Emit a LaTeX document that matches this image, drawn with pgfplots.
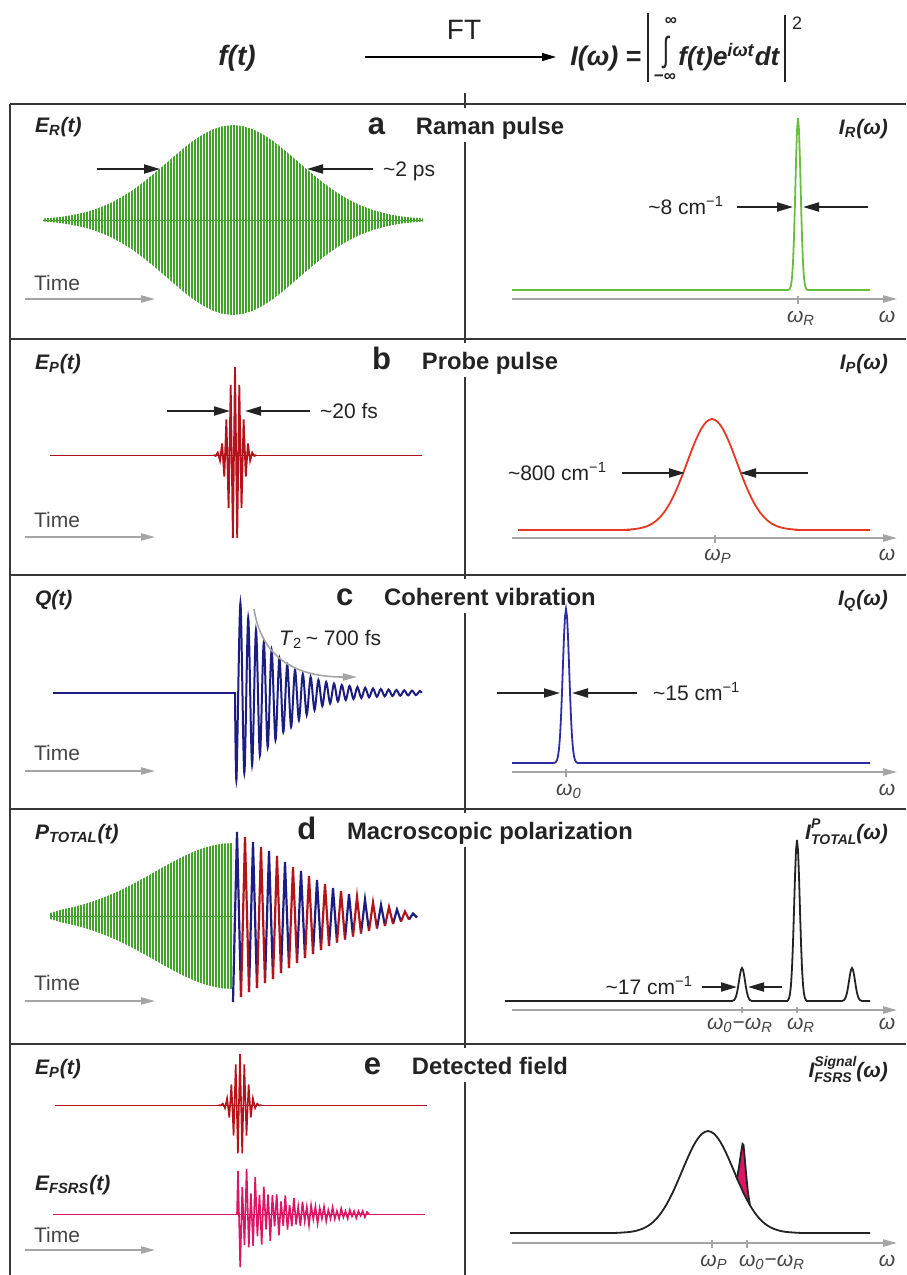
\documentclass[border=0pt]{standalone}
\usepackage{pgfplots}
\pgfplotsset{compat=1.18}
\usepackage{fontspec}
\setmainfont{Liberation Sans}
\usetikzlibrary{arrows.meta,patterns.meta}

\definecolor{cgreen}{RGB}{66,162,44}
\definecolor{cgreenl}{RGB}{105,190,60}
\definecolor{cdred}{RGB}{180,20,25}
\definecolor{cred}{RGB}{232,55,35}
\definecolor{cblue}{RGB}{28,28,130}
\definecolor{cblue2}{RGB}{45,45,160}
\definecolor{cmag}{RGB}{222,20,100}
\definecolor{cgray}{RGB}{165,165,165}
\definecolor{cframe}{RGB}{55,55,55}
\definecolor{ctext}{RGB}{35,35,35}

\newcommand\hdr{\fontsize{14}{16}\selectfont}
\newcommand\lab{\fontsize{10.5}{12}\selectfont\bfseries\itshape}
\newcommand\ann{\fontsize{10.5}{12}\selectfont}
\newcommand\ttl{\fontsize{11.9}{14}\selectfont\bfseries}
\newcommand\letr{\fontsize{15.5}{18}\selectfont\bfseries}
\newcommand\omf{\fontsize{10.5}{12}\selectfont\itshape}
\newcommand\sub[1]{\textsubscript{#1}}
\newcommand\smallf{\fontsize{7}{8}\selectfont}

% each panel: x in picture pixels, y in pixels above the trace baseline
\pgfplotsset{panel/.style={hide axis, clip=false, x=0.5pt, y=0.5pt,
  anchor=south west, ymin=-130, ymax=130, no markers, unbounded coords=jump}}
\tikzset{
  barr/.style={draw=ctext, line width=1pt, -{Triangle[length=8pt,width=4.5pt]}},
  garr/.style={draw=cgray, line width=0.8pt, -{Triangle[length=7pt,width=3.6pt]}},
  frame/.style={draw=cframe, line width=1.2pt},
  gtick/.style={draw=cgray, line width=0.8pt},
  gpat/.style={pattern={Lines[angle=90,distance=1.5pt,line width=0.85pt]}, pattern color=cgreen},
}

\begin{document}
\begin{tikzpicture}[x=0.5pt,y=-0.5pt]
\path[use as bounding box] (0,0) rectangle (906,1275);
% frame
\draw[frame] (10,104) -- (906,104);
\draw[frame] (10,339) -- (906,339);
\draw[frame] (10,575) -- (906,575);
\draw[frame] (10,809) -- (906,809);
\draw[frame] (10,1044) -- (906,1044);
\draw[frame] (10,104) -- (10,1275);
\draw[frame] (465,93) -- (465,1275);
\foreach \T in {104,339,575,809,1044} {\fill[white] (458,\T+4) rectangle (472,\T+38);}
% header
\node[anchor=base, text=ctext] at (237,65) {\hdr\bfseries\itshape f(t)};
\node[anchor=base, text=ctext] at (464,39) {\hdr FT};
\draw[line width=0.6pt, -{Triangle[length=7pt,width=4pt]}] (365,57) -- (556,57);
\node[anchor=base west, inner sep=0, text=ctext] at (570,65) {\fontsize{13.5}{16}\selectfont\bfseries\itshape I(ω) \upshape=};
\draw[line width=0.9pt, draw=ctext] (648,13) -- (648,82);
\draw[line width=0.9pt, draw=ctext] (785,15) -- (785,82);
\node[text=ctext, inner sep=0] at (666,52) {\scalebox{0.75}[1.15]{\fontsize{15}{18}\selectfont ∫}};
\node[text=ctext, inner sep=0] at (671,21) {\fontsize{8.5}{10}\selectfont\bfseries ∞};
\node[text=ctext, inner sep=0] at (665,77) {\fontsize{8.5}{10}\selectfont\bfseries −∞};
\node[anchor=base west, inner sep=0, text=ctext] at (678,65) {\fontsize{13}{16}\selectfont\bfseries\itshape f(t)e\textsuperscript{iωt}dt};
\node[text=ctext, inner sep=0] at (797,23) {\fontsize{9}{10}\selectfont 2};

% ---------- row a ----------
\begin{axis}[panel, xmin=0, xmax=465, at={(0pt,-175pt)}]
\addplot[cgreen, line width=0.3pt] coordinates {(43,0) (423,0)};
\addplot[draw=none, gpat] coordinates {
(43,1.5) (53,2.3) (63,3.4) (73,5.0) (83,7.2) (93,10.0) (103,13.7) (113,18.2) (123,23.7) (133,30.1)
(143,37.5) (153,45.6) (163,54.1) (173,62.8) (183,71.3) (193,79.1) (203,85.7) (213,90.7) (223,93.9) (233,95)
(243,93.9) (253,90.7) (263,85.7) (273,79.1) (283,71.3) (293,62.8) (303,54.1) (313,45.6) (323,37.5) (333,30.1)
(343,23.7) (353,18.2) (363,13.7) (373,10.0) (383,7.2) (393,5.0) (403,3.4) (413,2.3) (423,1.5)
(423,-1.5) (413,-2.3) (403,-3.4) (393,-5.0) (383,-7.2) (373,-10.0) (363,-13.7) (353,-18.2) (343,-23.7) (333,-30.1)
(323,-37.5) (313,-45.6) (303,-54.1) (293,-62.8) (283,-71.3) (273,-79.1) (263,-85.7) (253,-90.7) (243,-93.9) (233,-95)
(223,-93.9) (213,-90.7) (203,-85.7) (193,-79.1) (183,-71.3) (173,-62.8) (163,-54.1) (153,-45.6) (143,-37.5) (133,-30.1)
(123,-23.7) (113,-18.2) (103,-13.7) (93,-10.0) (83,-7.2) (73,-5.0) (63,-3.4) (53,-2.3) (43,-1.5)} --cycle;
\end{axis}
\begin{axis}[panel, xmin=465, xmax=906, at={(232.5pt,-210pt)}]
\addplot[cgreenl, line width=0.9pt] coordinates {(512,0) (788,0) (789,0.4) (790,1.5) (791,4.6) (792,12.0)
(793,27.1) (794,52.7) (795,88.4) (796,128) (797,159.7) (798,172) (799,159.7) (800,128) (801,88.4) (802,52.7)
(803,27.1) (804,12.0) (805,4.6) (806,1.5) (807,0.4) (808,0) (870,0)};
\end{axis}
\node[anchor=base west, text=ctext] at (28,132) {\lab E\sub{R}(t)};
\node[anchor=base, inner sep=0, text=ctext] (ta) at (490,134) {\ttl Raman pulse};
\node[anchor=base east, inner sep=0, text=ctext] at ([xshift=-15pt]ta.base west) {\letr a};
\node[anchor=base east, text=ctext] at (895,134) {\lab I\sub{R}(ω)};
\draw[barr] (97,169) -- (160,169);
\draw[barr] (373,169) -- (307,169);
\node[anchor=base west, text=ctext] at (376,176) {\ann\textasciitilde2 ps};
\draw[barr] (737,207) -- (793,207);
\draw[barr] (868,207) -- (803,207);
\node[anchor=base east, text=ctext] at (731,214) {\ann\textasciitilde8 cm\textsuperscript{−1}};
\node[anchor=base west, text=ctext!85] at (27,290) {\ann Time};
\draw[garr] (25,299) -- (155,299);
\draw[garr] (512,299) -- (897,299);
\draw[gtick] (798,296) -- (798,304);
\node[anchor=base, text=ctext!85] at (801,322) {\omf ω\sub{R}};
\node[anchor=base, text=ctext!85] at (887,322) {\omf ω};

% ---------- row b ----------
\begin{axis}[panel, xmin=0, xmax=465, at={(0pt,-292.5pt)}]
\addplot[cdred, line width=0.5pt] coordinates {(50,0) (422,0)};
\addplot[cdred, line width=0.9pt] coordinates {(213.5,0) (215.7,-0.9) (217.8,2.4) (220.0,-5.5) (222.1,11.5)
(224.3,-21.5) (226.4,35.7) (228.6,-53.0) (230.7,70.2) (232.9,-83.2) (235.0,88) (237.2,-83.2) (239.3,70.2)
(241.5,-53.0) (243.6,35.7) (245.8,-21.5) (247.9,11.5) (250.1,-5.5) (252.2,2.4) (254.4,-0.9) (256.5,0)};
\end{axis}
\begin{axis}[panel, xmin=465, xmax=906, at={(232.5pt,-330pt)}]
\addplot[cred, line width=0.9pt, smooth] coordinates {(518,0) (622,0) (628,0.4) (634,0.9) (640,1.8) (646,3.4)
(652,6.2) (658,10.8) (664,17.6) (670,27.1) (676,39.4) (682,54.0) (688,70.0) (694,85.7) (700,98.9) (706,107.8)
(712,111) (718,107.8) (724,98.9) (730,85.7) (736,70.0) (742,54.0) (748,39.4) (754,27.1) (760,17.6) (766,10.8)
(772,6.2) (778,3.4) (784,1.8) (790,0.9) (796,0.4) (802,0) (870,0)};
\end{axis}
\node[anchor=base west, text=ctext] at (28,369) {\lab E\sub{P}(t)};
\node[anchor=base, inner sep=0, text=ctext] (tb) at (490,369) {\ttl Probe pulse};
\node[anchor=base east, inner sep=0, text=ctext] at ([xshift=-15pt]tb.base west) {\letr b};
\node[anchor=base east, text=ctext] at (895,369) {\lab I\sub{P}(ω)};
\draw[barr] (167,411) -- (230,411);
\draw[barr] (310,411) -- (245,411);
\node[anchor=base west, text=ctext] at (313,418) {\ann\textasciitilde20 fs};
\draw[barr] (622,473) -- (685,473);
\draw[barr] (808,473) -- (740,473);
\node[anchor=base east, text=ctext] at (614,480) {\ann\textasciitilde800 cm\textsuperscript{−1}};
\node[anchor=base west, text=ctext!85] at (27,527) {\ann Time};
\draw[garr] (25,537) -- (155,537);
\draw[garr] (512,538) -- (897,538);
\draw[gtick] (715,535) -- (715,543);
\node[anchor=base, text=ctext!85] at (718,560) {\omf ω\sub{P}};
\node[anchor=base, text=ctext!85] at (887,560) {\omf ω};

% ---------- row c ----------
\begin{axis}[panel, xmin=0, xmax=465, at={(0pt,-411.5pt)}]
\addplot[cblue, line width=1pt] coordinates {(53,0) (235.5,0)};
\addplot[cblue, line width=1pt, smooth, tension=0.5] coordinates {(235,0) (236.5,-86) (240.4,90) (244.3,-80)
(248.2,75) (252.1,-72) (256.0,63) (259.9,-62) (263.8,51) (267.7,-54) (271.6,43) (275.5,-47) (279.4,35)
(283.3,-39) (287.2,28) (291.1,-34) (295.0,23) (298.9,-27) (302.8,19) (306.7,-22) (310.6,16) (314.5,-17)
(318.4,13) (322.3,-13) (326.2,11) (330.1,-10.5) (334.0,9.5) (337.9,-8.5) (341.8,8) (345.7,-7) (349.6,7)
(353.5,-6) (357.4,6) (361.3,-5) (365.2,5.2) (369.1,-4.3) (373.0,4.5) (376.9,-3.8) (380.8,4) (384.7,-3.3)
(388.6,3.5) (392.5,-3) (396.4,3) (400.3,-2.7) (404.2,2.7) (408.1,-2.4) (412.0,2.4) (415.9,-2.1) (419.8,2.1) (421.5,0)};
\end{axis}
\begin{axis}[panel, xmin=465, xmax=906, at={(232.5pt,-446.5pt)}]
\addplot[cblue2, line width=0.9pt] coordinates {(512,0) (554,0) (555,0.4) (556,1.2) (557,3.0) (558,6.8)
(559,14.1) (560,26.5) (561,45.4) (562,70.5) (563,99.2) (564,126.7) (565,146.7) (566,154) (567,146.7)
(568,126.7) (569,99.2) (570,70.5) (571,45.4) (572,26.5) (573,14.1) (574,6.8) (575,3.0) (576,1.2) (577,0.4)
(578,0) (870,0)};
\end{axis}
\node[anchor=base west, text=ctext] at (28,605) {\lab Q(t)};
\node[anchor=base, inner sep=0, text=ctext] (tc) at (490,605) {\ttl Coherent vibration};
\node[anchor=base east, inner sep=0, text=ctext] at ([xshift=-15pt]tc.base west) {\letr c};
\node[anchor=base east, text=ctext] at (895,605) {\lab I\sub{Q}(ω)};
\draw[garr] (254,609) .. controls (262,660) and (298,677) .. (357,677);
\node[anchor=base west, text=ctext] at (272,645) {\ann\textit{T}\sub{2}\,\textasciitilde\ 700 fs};
\draw[barr] (497,693) -- (560,693);
\draw[barr] (637,693) -- (572,693);
\node[anchor=base west, text=ctext] at (646,700) {\ann\textasciitilde15 cm\textsuperscript{−1}};
\node[anchor=base west, text=ctext!85] at (27,760) {\ann Time};
\draw[garr] (25,771) -- (155,771);
\draw[garr] (512,772) -- (897,772);
\draw[gtick] (566,769) -- (566,777);
\node[anchor=base, text=ctext!85] at (569,795) {\omf ω\sub{0}};
\node[anchor=base, text=ctext!85] at (887,795) {\omf ω};

% ---------- row d ----------
\begin{axis}[panel, xmin=0, xmax=465, at={(0pt,-523pt)}]
\addplot[cgreen, line width=0.3pt] coordinates {(50,0) (233,0)};
\addplot[draw=none, gpat] coordinates {
(50,3) (63,6.8) (73,8.9) (83,11.5) (93,14.6) (103,18.2) (113,22.4) (123,27.0) (133,32.1) (143,37.5)
(153,43.1) (163,48.8) (173,54.3) (183,59.4) (193,64.0) (203,67.8) (213,70.6) (223,72.4) (233,73)
(233,-73) (223,-72.4) (213,-70.6) (203,-67.8) (193,-64.0) (183,-59.4) (173,-54.3) (163,-48.8) (153,-43.1)
(143,-37.5) (133,-32.1) (123,-27.0) (113,-22.4) (103,-18.2) (93,-14.6) (83,-11.5) (73,-8.9) (63,-6.8) (50,-3)} --cycle;
\addplot[cblue, line width=1.1pt] coordinates {(233,-86) (237,84) (241,-81) (245,nan) (249,-76) (253,74)
(257,-72) (261,nan) (265,-67) (269,65) (273,-63) (277,nan) (281,-57) (285,54) (289,-52) (293,nan)
(297,-47) (301,45) (305,-42) (309,nan) (313,-38) (317,36) (321,-34) (325,nan) (329,-30) (333,28)
(337,-26.5) (341,nan) (345,-23.5) (349,22) (353,-20.5) (357,nan) (361,-17.5) (365,16.5) (369,-15)
(373,nan) (377,-12.5) (381,11) (385,-10) (389,nan) (393,-8) (397,6.5) (401,-5.5) (405,nan) (409,-3.5)
(413,2.5) (417,-1.5)};
\addplot[cdred, line width=1.1pt] coordinates {(241,-81) (245,79) (249,-76) (253,nan) (257,-72) (261,69)
(265,-67) (269,nan) (273,-63) (277,60) (281,-57) (285,nan) (289,-52) (293,49) (297,-47) (301,nan)
(305,-42) (309,40) (313,-38) (317,nan) (321,-34) (325,32) (329,-30) (333,nan) (337,-26.5) (341,25)
(345,-23.5) (349,nan) (353,-20.5) (357,19) (361,-17.5) (365,nan) (369,-15) (373,13.5) (377,-12.5)
(381,nan) (385,-10) (389,9) (393,-8) (397,nan) (401,-5.5) (405,4.5) (409,-3.5)};
\end{axis}
\begin{axis}[panel, xmin=465, xmax=906, at={(232.5pt,-565.5pt)}]
\addplot[ctext, line width=0.9pt] coordinates {(505,0) (732,0) (733,0.4) (734,0.9) (735,2.2) (736,4.5)
(737,8.2) (738,13.6) (739,20.0) (740,26.4) (741,31.2) (742,33) (743,31.2) (744,26.4) (745,20.0) (746,13.6)
(747,8.2) (748,4.5) (749,2.2) (750,0.9) (751,0.4) (752,0) (787,0) (788,0.9) (789,2.7) (790,7.1) (791,16.2)
(792,32.7) (793,58.0) (794,90.6) (795,124.8) (796,151) (797,161) (798,151) (799,124.8) (800,90.6) (801,58.0)
(802,32.7) (803,16.2) (804,7.1) (805,2.7) (806,0.9) (807,0) (842,0) (843,0.4) (844,0.9) (845,2.2) (846,4.5)
(847,8.2) (848,13.6) (849,20.0) (850,26.4) (851,31.2) (852,33) (853,31.2) (854,26.4) (855,20.0) (856,13.6)
(857,8.2) (858,4.5) (859,2.2) (860,0.9) (861,0.4) (862,0) (870,0)};
\end{axis}
\node[anchor=base west, text=ctext] at (28,839) {\lab P\sub{TOTAL}(t)};
\node[anchor=base, inner sep=0, text=ctext] (td) at (490,839) {\ttl Macroscopic polarization};
\node[anchor=base east, inner sep=0, text=ctext] at ([xshift=-15pt]td.base west) {\letr d};
\node[anchor=base east, text=ctext] at (895,839) {\lab I\rlap{\raisebox{0.95ex}{\smallf P}}\raisebox{-0.45ex}{\smallf TOTAL}(ω)};
\draw[barr] (702,987) -- (737,987);
\draw[barr] (782,987) -- (748,987);
\node[anchor=base east, text=ctext] at (700,994) {\ann\textasciitilde17 cm\textsuperscript{−1}};
\node[anchor=base west, text=ctext!85] at (27,990) {\ann Time};
\draw[garr] (25,1001) -- (155,1001);
\draw[garr] (512,1010) -- (897,1010);
\draw[gtick] (742,1007) -- (742,1013);
\draw[gtick] (797,1007) -- (797,1013);
\node[anchor=base, text=ctext!85] at (740,1029) {\omf ω\sub{0}\upshape−\itshape ω\sub{R}};
\node[anchor=base, text=ctext!85] at (801,1029) {\omf ω\sub{R}};
\node[anchor=base, text=ctext!85] at (887,1029) {\omf ω};

% ---------- row e ----------
\begin{axis}[panel, xmin=0, xmax=465, at={(0pt,-617.5pt)}]
\addplot[cdred, line width=0.5pt] coordinates {(55,0) (427,0)};
\addplot[cdred, line width=0.8pt] coordinates {(218.5,0) (220.7,-0.5) (222.8,1.4) (225.0,-3.2) (227.1,6.7)
(229.3,-12.5) (231.4,20.7) (233.6,-30.7) (235.7,40.7) (237.9,-48.3) (240.0,51) (242.2,-48.3) (244.3,40.7)
(246.5,-30.7) (248.6,20.7) (250.8,-12.5) (252.9,6.7) (255.1,-3.2) (257.2,1.4) (259.4,-0.5) (261.5,0)};
\end{axis}
\begin{axis}[panel, xmin=0, xmax=465, at={(0pt,-672pt)}]
\addplot[cmag, line width=0.5pt] coordinates {(53,0) (425,0)};
\addplot[cmag, line width=0.8pt] coordinates {(237,0) (238.0,43) (240.2,-53) (242.3,27.0) (244.5,-31.0)
(246.6,45.1) (248.8,-33.4) (250.9,20.7) (253.1,-31.8) (255.2,36.8) (257.4,-22.2) (259.5,19.1) (261.7,-30.6)
(263.8,27.4) (266.0,-15.4) (268.1,19.5) (270.3,-26.8) (272.4,18.8) (274.6,-12.4) (276.7,19.7) (278.9,-21.4)
(281.0,12.5) (283.2,-11.8) (285.3,18.6) (287.5,-15.6) (289.6,8.9) (291.8,-12.2) (293.9,16.0) (296.1,-10.5)
(298.2,7.5) (300.4,-12.1) (302.5,12.3) (304.7,-7.0) (306.8,7.4) (309.0,-11.2) (311.1,8.8) (313.3,-5.2)
(315.4,7.6) (317.6,-9.4) (319.7,5.9) (321.9,-4.6) (324.0,7.4) (326.2,-7.1) (328.3,4.0) (330.5,-4.6)
(332.6,6.7) (334.8,-4.9) (336.9,3.1) (339.1,-4.7) (341.2,5.5) (343.4,-3.3) (345.5,2.9) (347.7,-4.5)
(349.8,4.1) (352.0,-2.3) (354.1,2.9) (356.3,-4.0) (358.4,2.9) (360.6,-1.8) (362.7,3.0) (364.9,-3.2)
(367.0,1.9) (369,0)};
\end{axis}
\begin{axis}[panel, xmin=465, xmax=906, at={(232.5pt,-681.5pt)}]
\addplot[draw=none, fill=cmag] coordinates {(737,54.8) (739,66) (741,80) (742.5,89) (743.5,88)
(745,72) (746.5,55) (748,40) (750,27.7) (748,31.2) (746,35.1) (744,39.1) (742,43.4) (740,47.8) (738,52.4)} --cycle;
\addplot[ctext, line width=0.9pt, smooth] coordinates {(510,0) (606,0) (612,0) (618,0.2) (624,0.6) (630,1.1)
(636,2.2) (642,4.1) (648,7.1) (654,11.8) (660,18.6) (666,27.7) (672,39.1) (678,52.4) (684,66.6) (690,80.3)
(696,91.7) (702,99.3) (708,102) (714,99.3) (720,91.7) (726,80.3) (732,66.6) (738,52.4) (744,39.1) (750,27.7)
(756,18.6) (762,11.8) (768,7.1) (774,4.1) (780,2.2) (786,1.1) (792,0.6) (798,0.2) (804,0) (810,0) (870,0)};
\addplot[ctext, line width=0.9pt] coordinates {(736,57) (737,54.8) (739,66) (741,80) (742.5,89) (743.5,88)
(745,72) (746.5,55) (748,40) (750,27.7)};
\end{axis}
\node[anchor=base west, text=ctext] at (28,1074) {\lab E\sub{P}(t)};
\node[anchor=base, inner sep=0, text=ctext] (te) at (490,1074) {\ttl Detected field};
\node[anchor=base east, inner sep=0, text=ctext] at ([xshift=-15pt]te.base west) {\letr e};
\node[anchor=base east, text=ctext] at (895,1077) {\lab I\rlap{\raisebox{-0.45ex}{\smallf FSRS}}\raisebox{0.95ex}{\smallf Signal}(ω)};
\node[anchor=base west, text=ctext] at (28,1190) {\lab E\sub{FSRS}(t)};
\node[anchor=base west, text=ctext!85] at (27,1242) {\ann Time};
\draw[garr] (25,1250) -- (155,1250);
\draw[garr] (512,1243) -- (897,1243);
\draw[gtick] (712,1240) -- (712,1248);
\draw[gtick] (747,1240) -- (747,1248);
\node[anchor=base, text=ctext!85] at (714,1266) {\omf ω\sub{P}};
\node[anchor=base, text=ctext!85] at (772,1266) {\omf ω\sub{0}\upshape−\itshape ω\sub{R}};
\node[anchor=base, text=ctext!85] at (887,1266) {\omf ω};
\end{tikzpicture}
\end{document}
